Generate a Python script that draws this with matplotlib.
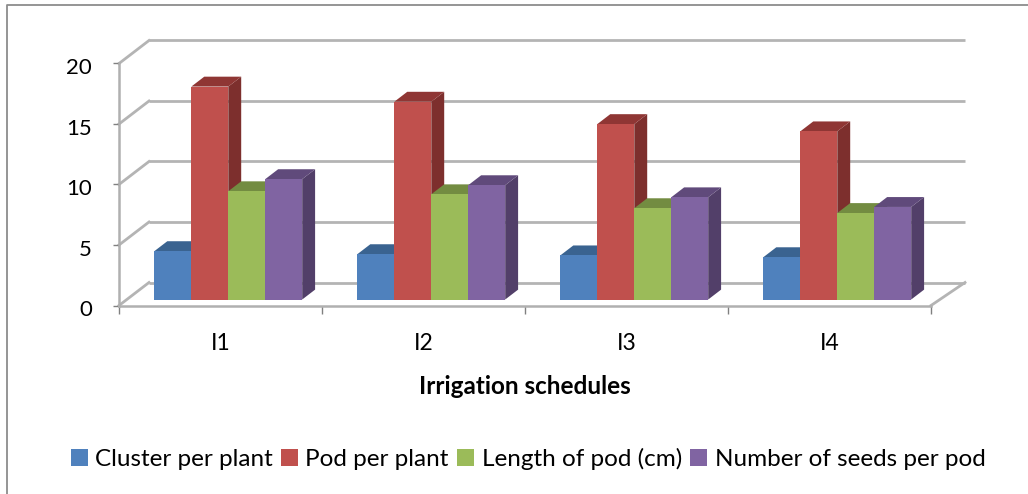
import numpy as np
import matplotlib
matplotlib.use("Agg")
import matplotlib.pyplot as plt
from matplotlib.patches import Polygon, Rectangle
from matplotlib.transforms import ScaledTranslation

# data
categories = ['I1', 'I2', 'I3', 'I4']
cluster_per_plant = [4.0, 3.75, 3.65, 3.5]
pod_per_plant = [17.6, 16.35, 14.5, 13.9]
length_of_pod = [8.95, 8.7, 7.55, 7.15]
seeds_per_pod = [9.95, 9.45, 8.45, 7.65]
y_ticks = [0, 5, 10, 15, 20]

series = [
    ('Cluster per plant', cluster_per_plant, '#4F81BD', '#3A6390', '#2F4F75'),
    ('Pod per plant', pod_per_plant, '#C0504D', '#8F3634', '#7D2F2D'),
    ('Length of pod (cm)', length_of_pod, '#9BBB59', '#738C41', '#657B38'),
    ('Number of seeds per pod', seeds_per_pod, '#8064A2', '#604A7B', '#523F69'),
]

W, H = 1028, 494
plt.rcParams['font.family'] = ['Lato', 'DejaVu Sans']

fig = plt.figure(figsize=(W / 100, H / 100), dpi=100)

# only the top and left edges of the chart frame are inside the picture
fig.add_artist(plt.Line2D([6.5 / W, 6.5 / W, 1], [0, 1 - 5 / H, 1 - 5 / H], color='#8c8c8c', lw=1.3))

# front plane of the 3D box
left, right, bottom, top = 119, 931, 305.5, 63.5
ax = fig.add_axes([left / W, 1 - bottom / H, (right - left) / W, (bottom - top) / H])
ax.set_xlim(0, 4)
ax.set_ylim(0, 20)
ax.patch.set_visible(False)
for s in ['top', 'right']:
    ax.spines[s].set_visible(False)
for s in ['left', 'bottom']:
    ax.spines[s].set_color('#b0b0b0')
    ax.spines[s].set_linewidth(1.8)

# depth vector of the box, in data units
depth_x = 30 / ((right - left) / 4)
depth_y = 23 / ((bottom - top) / 20)
grid_c = '#b4b4b4'


def skew(x, y, d):
    return x + d * depth_x, y + d * depth_y


# back wall gridlines and the side/floor lines
right_extra = 4 / ((right - left) / 4)
for v in y_ticks:
    x0, y0 = skew(0, v, 1)
    x1, y1 = skew(4, v, 1)
    ax.plot([x0, x1 + right_extra], [y0, y1], color=grid_c, lw=2, clip_on=False, zorder=1, solid_capstyle='butt')
    ax.plot([0, x0], [v, y0], color=grid_c, lw=2, clip_on=False, zorder=1)
floor_x, floor_y = skew(4, 0, 1)
ax.plot([4, floor_x + right_extra], [0, floor_y], color=grid_c, lw=2, clip_on=False, zorder=1)

# bars
bar_w = 0.182
gap = (1 - 4 * bar_w) / 2
d_front, d_back = 0.26, 0.69
for i in range(len(categories)):
    for j, (name, vals, face, top_c, side_c) in enumerate(series):
        x0 = i + gap + j * bar_w
        x1 = x0 + bar_w
        v = vals[i]
        z = 3 + j * 0.1
        fx0, fy0 = skew(x0, 0, d_front)
        fx1, fy1 = skew(x1, v, d_front)
        bx0, by0 = skew(x0, 0, d_back)
        bx1, by1 = skew(x1, v, d_back)
        side = [(fx1, fy0), (bx1, by0), (bx1, by1), (fx1, fy1)]
        roof = [(fx0, fy1), (bx0, by1), (bx1, by1), (fx1, fy1)]
        front = [(fx0, fy0), (fx1, fy0), (fx1, fy1), (fx0, fy1)]
        ax.add_patch(Polygon(side, closed=True, facecolor=side_c, edgecolor='none', clip_on=False, zorder=z))
        ax.add_patch(Polygon(roof, closed=True, facecolor=top_c, edgecolor='none', clip_on=False, zorder=z))
        ax.add_patch(Polygon(front, closed=True, facecolor=face, edgecolor='none', clip_on=False, zorder=z + 0.05))

ax.set_yticks(y_ticks)
ax.set_xticks(np.arange(5))
ax.set_xticks(np.arange(4) + 0.5, minor=True)
ax.set_xticklabels([])
ax.set_xticklabels(categories, minor=True)
ax.tick_params(axis='x', which='major', length=6, width=1, color='#808080', direction='out')
ax.tick_params(axis='x', which='minor', length=0, pad=20, labelsize=16.5, labelcolor='black')
ax.tick_params(axis='y', length=4, width=1, color='#808080', pad=15.5, labelsize=16)
# y labels sit a little below their ticks in the original
for lab in ax.get_yticklabels():
    lab.set_transform(lab.get_transform() + ScaledTranslation(0, -2 / 72, fig.dpi_scale_trans))
ax.set_xlabel('Irrigation schedules', fontsize=17.5, fontweight='bold', labelpad=15)

# legend
handles = [Rectangle((0, 0), 1, 1, facecolor=s[2]) for s in series]
fig.legend(handles, [s[0] for s in series], loc='center', bbox_to_anchor=(528 / W, 1 - 459 / H), ncol=4,
           frameon=False, fontsize=17.5, handlelength=0.7, handleheight=0.7, handletextpad=0.3,
           columnspacing=0.35, borderpad=0)

fig.savefig('out.png', dpi=100, facecolor='white')
